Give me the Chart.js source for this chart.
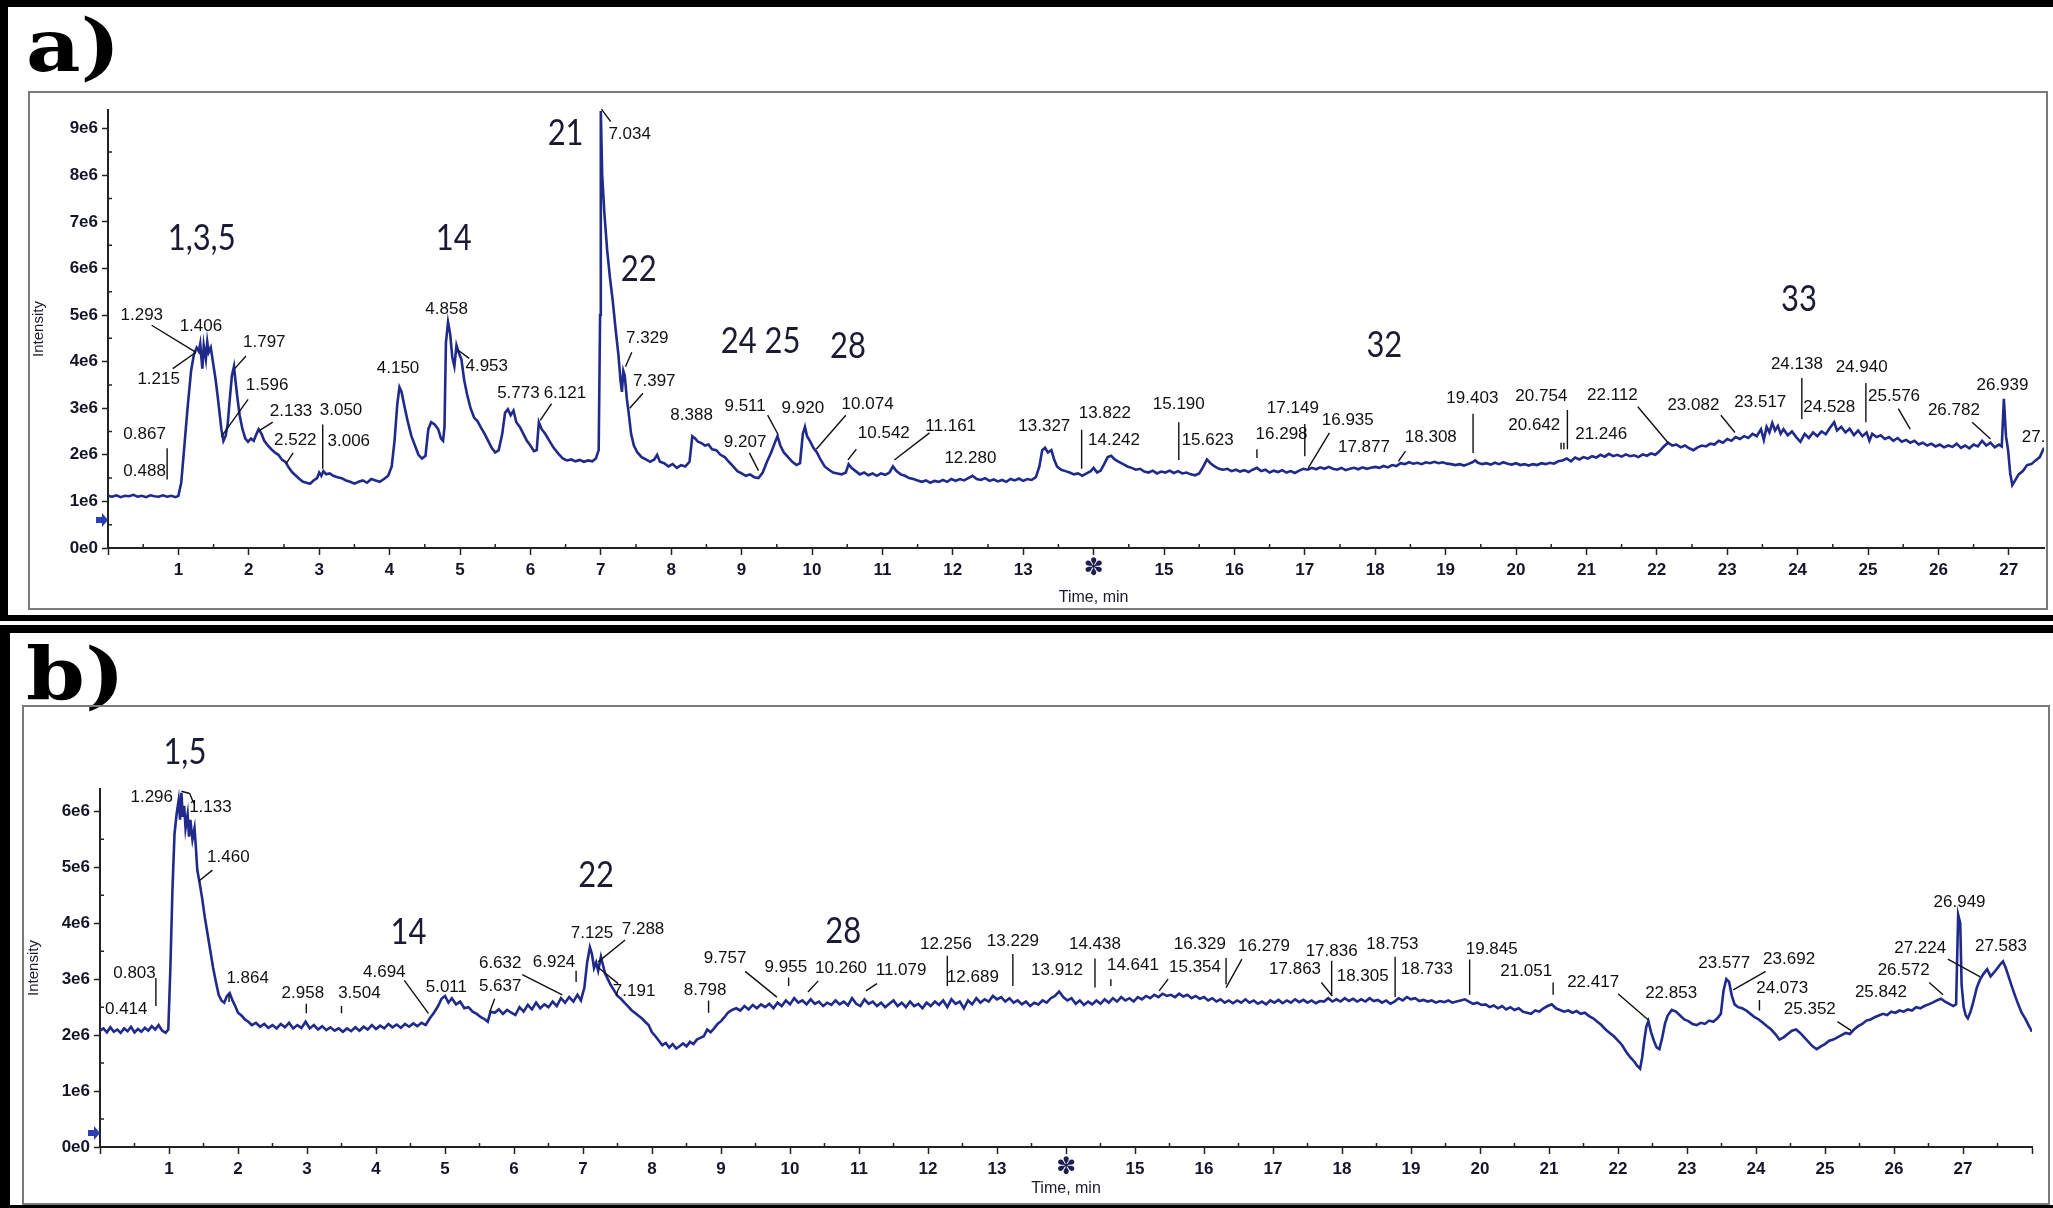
<!DOCTYPE html>
<html>
<head>
<meta charset="utf-8">
<script src="https://cdn.jsdelivr.net/npm/chart.js@4.4.0/dist/chart.umd.min.js"></script>
<style>
  html, body { margin: 0; padding: 0; background: #fff; }
  body { width: 2053px; height: 1208px; position: relative; overflow: hidden; }
  .blk { position: absolute; background: #000; }
  .frame { position: absolute; border: 2px solid #7a7a7a; box-sizing: border-box; }
  .frame canvas { position: absolute; left: 0; top: 0; }
  .tag { position: absolute; font: bold 72px "DejaVu Serif", serif; line-height: 72px; color: #000;
         transform: scaleX(1.17); transform-origin: left top; }
</style>
</head>
<body>
<div class="blk" style="left:0;top:0;width:2053px;height:7px"></div>
<div class="blk" style="left:0;top:0;width:8px;height:621px"></div>
<div class="blk" style="left:0;top:615px;width:2053px;height:6px"></div>
<div class="blk" style="left:0;top:625px;width:2053px;height:8px"></div>
<div class="blk" style="left:0;top:625px;width:10px;height:583px"></div>
<div class="blk" style="left:0;top:1205px;width:2053px;height:3px"></div>
<div class="tag" style="left:26px;top:10px">a)</div>
<div class="tag" style="left:26px;top:639px">b)</div>
<div class="frame" style="left:28px;top:91px;width:2020px;height:519px"><canvas id="chartA" width="2016" height="515"></canvas></div>
<div class="frame" style="left:22px;top:705px;width:2028px;height:500px"><canvas id="chartB" width="2024" height="496"></canvas></div>

<script>
// time (min), intensity (x1e6) read off chromatogram a)
const traceA = [
  [0.00,1.12],[0.06,1.10],[0.12,1.13],[0.18,1.09],[0.24,1.12],[0.30,1.11],[0.36,1.14],[0.42,1.10],[0.48,1.12],[0.54,1.09],
  [0.60,1.13],[0.66,1.11],[0.72,1.10],[0.78,1.13],[0.84,1.10],[0.90,1.12],[0.96,1.09],[1.00,1.12],[1.04,1.40],[1.08,2.10],
  [1.13,3.00],[1.18,3.80],[1.22,4.15],[1.26,4.30],[1.29,4.22],[1.31,4.38],[1.34,3.85],[1.36,4.35],[1.39,4.05],[1.41,4.42],
  [1.43,4.20],[1.46,4.30],[1.49,4.00],[1.53,3.60],[1.57,3.10],[1.61,2.55],[1.64,2.30],[1.67,2.40],[1.70,2.65],[1.73,3.20],
  [1.76,3.70],[1.79,3.90],[1.81,3.60],[1.84,3.20],[1.87,2.85],[1.91,2.55],[1.95,2.35],[1.99,2.28],[2.03,2.35],[2.07,2.30],
  [2.11,2.45],[2.14,2.55],[2.18,2.45],[2.22,2.30],[2.27,2.20],[2.32,2.12],[2.37,2.05],[2.42,2.00],[2.47,1.90],[2.52,1.85],
  [2.57,1.72],[2.62,1.62],[2.67,1.55],[2.72,1.48],[2.77,1.42],[2.82,1.40],[2.87,1.38],[2.92,1.45],[2.97,1.50],[3.00,1.62],
  [3.03,1.55],[3.06,1.65],[3.10,1.58],[3.15,1.60],[3.20,1.55],[3.26,1.52],[3.32,1.50],[3.38,1.45],[3.44,1.42],[3.50,1.38],
  [3.56,1.42],[3.62,1.45],[3.68,1.40],[3.74,1.48],[3.80,1.45],[3.86,1.42],[3.92,1.48],[3.98,1.55],[4.03,1.75],[4.07,2.30],
  [4.11,3.10],[4.14,3.45],[4.17,3.35],[4.21,3.05],[4.26,2.70],[4.31,2.40],[4.36,2.20],[4.41,2.00],[4.46,1.92],[4.51,1.98],
  [4.55,2.55],[4.59,2.70],[4.64,2.65],[4.69,2.55],[4.73,2.35],[4.76,2.30],[4.78,2.60],[4.80,4.40],[4.83,4.85],[4.86,4.60],
  [4.89,4.10],[4.92,3.90],[4.95,4.35],[4.98,4.20],[5.02,4.05],[5.06,3.60],[5.10,3.30],[5.15,3.00],[5.20,2.80],[5.25,2.72],
  [5.30,2.58],[5.35,2.45],[5.40,2.30],[5.45,2.15],[5.50,2.05],[5.55,2.10],[5.60,2.45],[5.64,2.90],[5.68,2.98],[5.72,2.85],
  [5.76,2.95],[5.80,2.70],[5.85,2.60],[5.90,2.45],[5.95,2.30],[6.00,2.20],[6.05,2.08],[6.09,2.10],[6.12,2.70],[6.16,2.55],
  [6.21,2.45],[6.27,2.30],[6.33,2.15],[6.40,2.02],[6.46,1.92],[6.52,1.88],[6.58,1.90],[6.64,1.86],[6.70,1.89],[6.76,1.85],
  [6.82,1.88],[6.88,1.86],[6.93,1.92],[6.97,2.10],[6.99,5.00],[7.00,9.38],[7.02,8.00],[7.05,7.20],[7.09,6.40],[7.13,5.80],
  [7.17,5.30],[7.21,4.70],[7.25,4.15],[7.28,3.60],[7.30,3.35],[7.32,3.80],[7.34,3.70],[7.37,3.20],[7.40,2.85],[7.43,2.45],
  [7.47,2.20],[7.52,2.05],[7.58,1.95],[7.64,1.90],[7.70,1.85],[7.76,1.90],[7.80,2.00],[7.84,1.85],[7.90,1.82],[7.96,1.75],
  [8.02,1.80],[8.08,1.72],[8.14,1.78],[8.20,1.75],[8.26,1.85],[8.30,2.40],[8.34,2.35],[8.38,2.28],[8.43,2.25],[8.48,2.20],
  [8.53,2.22],[8.58,2.12],[8.64,2.10],[8.70,2.00],[8.76,1.95],[8.82,1.85],[8.88,1.75],[8.94,1.65],[9.00,1.60],[9.06,1.55],
  [9.12,1.58],[9.18,1.52],[9.24,1.50],[9.30,1.62],[9.36,1.85],[9.42,2.05],[9.47,2.25],[9.51,2.40],[9.55,2.20],[9.60,2.05],
  [9.66,1.95],[9.72,1.85],[9.78,1.78],[9.83,1.82],[9.87,2.45],[9.90,2.60],[9.93,2.40],[9.97,2.30],[10.02,2.15],[10.07,2.05],
  [10.12,1.90],[10.18,1.75],[10.24,1.68],[10.30,1.62],[10.36,1.60],[10.42,1.58],[10.48,1.62],[10.52,1.80],[10.56,1.72],[10.62,1.65],
  [10.68,1.58],[10.74,1.62],[10.80,1.56],[10.86,1.60],[10.92,1.55],[10.98,1.60],[11.04,1.57],[11.10,1.62],[11.15,1.75],[11.20,1.65],
  [11.26,1.58],[11.32,1.55],[11.38,1.50],[11.44,1.48],[11.50,1.45],[11.56,1.42],[11.62,1.45],[11.68,1.40],[11.74,1.44],[11.80,1.42],
  [11.86,1.46],[11.92,1.42],[11.98,1.48],[12.04,1.44],[12.10,1.48],[12.16,1.45],[12.22,1.50],[12.28,1.55],[12.34,1.48],[12.40,1.46],
  [12.46,1.50],[12.52,1.44],[12.58,1.47],[12.64,1.43],[12.70,1.46],[12.76,1.42],[12.82,1.48],[12.88,1.45],[12.94,1.49],[13.00,1.44],
  [13.06,1.48],[13.12,1.46],[13.18,1.52],[13.23,1.75],[13.27,2.10],[13.31,2.15],[13.35,2.05],[13.40,2.10],[13.44,1.90],[13.48,1.75],
  [13.54,1.68],[13.60,1.65],[13.66,1.62],[13.72,1.58],[13.78,1.60],[13.84,1.55],[13.90,1.60],[13.96,1.65],[14.00,1.72],[14.05,1.62],
  [14.10,1.66],[14.15,1.80],[14.20,1.95],[14.25,1.98],[14.30,1.90],[14.36,1.85],[14.42,1.80],[14.48,1.75],[14.54,1.72],[14.60,1.68],
  [14.66,1.70],[14.72,1.64],[14.78,1.62],[14.84,1.66],[14.90,1.60],[14.96,1.64],[15.02,1.62],[15.08,1.66],[15.14,1.61],[15.20,1.65],
  [15.26,1.60],[15.32,1.62],[15.38,1.58],[15.44,1.56],[15.50,1.60],[15.56,1.75],[15.61,1.90],[15.66,1.82],[15.72,1.75],[15.78,1.70],
  [15.84,1.68],[15.90,1.70],[15.96,1.65],[16.02,1.68],[16.08,1.64],[16.14,1.67],[16.20,1.63],[16.26,1.68],[16.32,1.72],[16.38,1.65],
  [16.44,1.68],[16.50,1.62],[16.56,1.66],[16.62,1.63],[16.68,1.67],[16.74,1.62],[16.80,1.65],[16.86,1.61],[16.92,1.66],[16.98,1.70],
  [17.04,1.68],[17.10,1.72],[17.16,1.69],[17.22,1.73],[17.28,1.70],[17.34,1.74],[17.40,1.70],[17.46,1.68],[17.52,1.72],[17.58,1.67],
  [17.64,1.70],[17.70,1.72],[17.76,1.69],[17.82,1.73],[17.88,1.70],[17.94,1.72],[18.00,1.74],[18.06,1.72],[18.12,1.76],[18.18,1.73],
  [18.24,1.78],[18.30,1.76],[18.36,1.82],[18.42,1.80],[18.48,1.84],[18.54,1.81],[18.60,1.83],[18.66,1.80],[18.72,1.84],[18.78,1.82],
  [18.84,1.85],[18.90,1.82],[18.96,1.84],[19.02,1.81],[19.08,1.80],[19.14,1.78],[19.20,1.80],[19.26,1.77],[19.32,1.80],[19.38,1.84],
  [19.42,1.88],[19.46,1.83],[19.52,1.80],[19.58,1.82],[19.64,1.79],[19.70,1.83],[19.76,1.80],[19.82,1.84],[19.88,1.81],[19.94,1.79],
  [20.00,1.82],[20.06,1.78],[20.12,1.80],[20.18,1.77],[20.24,1.80],[20.30,1.78],[20.36,1.82],[20.42,1.80],[20.48,1.83],[20.54,1.81],
  [20.60,1.86],[20.66,1.88],[20.72,1.92],[20.78,1.86],[20.84,1.94],[20.90,1.90],[20.96,1.95],[21.02,1.92],[21.08,1.97],[21.14,1.94],
  [21.20,2.00],[21.26,1.96],[21.32,2.02],[21.38,1.97],[21.44,2.00],[21.50,1.96],[21.56,2.01],[21.62,1.97],[21.68,1.99],[21.74,1.95],
  [21.80,2.01],[21.86,1.98],[21.92,2.03],[21.98,2.00],[22.04,2.08],[22.10,2.18],[22.16,2.26],[22.22,2.20],[22.28,2.22],[22.34,2.16],
  [22.40,2.20],[22.46,2.14],[22.52,2.10],[22.58,2.16],[22.64,2.20],[22.70,2.18],[22.76,2.24],[22.82,2.22],[22.88,2.30],[22.94,2.26],
  [23.00,2.34],[23.06,2.30],[23.12,2.38],[23.18,2.34],[23.24,2.40],[23.30,2.36],[23.36,2.45],[23.42,2.40],[23.48,2.55],[23.52,2.32],
  [23.56,2.60],[23.60,2.48],[23.64,2.68],[23.68,2.52],[23.72,2.62],[23.76,2.45],[23.80,2.55],[23.86,2.42],[23.92,2.50],[23.98,2.38],
  [24.04,2.28],[24.10,2.45],[24.16,2.36],[24.22,2.48],[24.28,2.40],[24.34,2.50],[24.40,2.44],[24.46,2.58],[24.52,2.70],[24.56,2.52],
  [24.62,2.60],[24.68,2.48],[24.74,2.56],[24.80,2.42],[24.86,2.52],[24.92,2.40],[24.98,2.48],[25.02,2.30],[25.06,2.45],[25.12,2.38],
  [25.18,2.42],[25.24,2.34],[25.30,2.38],[25.36,2.30],[25.42,2.36],[25.48,2.28],[25.54,2.32],[25.60,2.26],[25.66,2.30],[25.72,2.22],
  [25.78,2.26],[25.84,2.20],[25.90,2.24],[25.96,2.18],[26.02,2.22],[26.08,2.16],[26.14,2.20],[26.20,2.17],[26.26,2.24],[26.32,2.15],
  [26.38,2.20],[26.44,2.14],[26.50,2.22],[26.56,2.18],[26.62,2.30],[26.68,2.20],[26.74,2.26],[26.80,2.16],[26.86,2.22],[26.90,2.18],
  [26.93,3.20],[26.96,2.40],[26.99,2.10],[27.02,1.60],[27.05,1.35],[27.09,1.45],[27.14,1.58],[27.20,1.65],[27.26,1.78],[27.32,1.80],
  [27.38,1.88],[27.44,1.95],[27.50,2.15]
];

// time (min), intensity (x1e6) read off chromatogram b)
const traceB = [
  [0.00,2.08],[0.05,2.12],[0.10,2.05],[0.15,2.14],[0.20,2.06],[0.25,2.10],[0.30,2.04],[0.35,2.12],[0.40,2.07],[0.45,2.15],
  [0.50,2.05],[0.55,2.11],[0.60,2.06],[0.65,2.13],[0.70,2.08],[0.75,2.16],[0.80,2.10],[0.85,2.18],[0.90,2.08],[0.95,2.04],
  [0.99,2.10],[1.02,3.20],[1.05,4.60],[1.08,5.60],[1.11,5.95],[1.14,6.20],[1.16,5.85],[1.18,6.33],[1.20,5.90],[1.22,6.10],
  [1.24,5.70],[1.27,5.95],[1.29,5.55],[1.31,5.85],[1.34,5.50],[1.37,5.70],[1.39,5.35],[1.41,4.95],[1.44,4.75],[1.48,4.45],
  [1.52,4.10],[1.56,3.80],[1.60,3.50],[1.64,3.20],[1.68,2.95],[1.72,2.72],[1.76,2.62],[1.80,2.58],[1.84,2.70],[1.88,2.75],
  [1.92,2.62],[1.96,2.52],[2.00,2.40],[2.05,2.35],[2.10,2.28],[2.15,2.24],[2.20,2.18],[2.26,2.22],[2.32,2.15],[2.38,2.20],
  [2.44,2.13],[2.50,2.18],[2.56,2.12],[2.62,2.20],[2.68,2.14],[2.74,2.22],[2.80,2.12],[2.86,2.18],[2.92,2.13],[2.98,2.24],
  [3.04,2.12],[3.10,2.18],[3.16,2.10],[3.22,2.16],[3.28,2.09],[3.34,2.14],[3.40,2.08],[3.46,2.12],[3.52,2.06],[3.58,2.12],
  [3.64,2.07],[3.70,2.14],[3.76,2.08],[3.82,2.15],[3.88,2.10],[3.94,2.18],[4.00,2.11],[4.06,2.17],[4.12,2.12],[4.18,2.20],
  [4.24,2.14],[4.30,2.19],[4.36,2.13],[4.42,2.20],[4.48,2.15],[4.54,2.21],[4.60,2.16],[4.66,2.22],[4.72,2.18],[4.78,2.30],
  [4.84,2.40],[4.90,2.52],[4.95,2.65],[5.00,2.70],[5.05,2.58],[5.10,2.66],[5.16,2.55],[5.22,2.60],[5.28,2.48],[5.34,2.50],
  [5.40,2.42],[5.46,2.38],[5.52,2.32],[5.58,2.28],[5.62,2.24],[5.66,2.42],[5.72,2.40],[5.78,2.46],[5.84,2.38],[5.90,2.45],
  [5.96,2.40],[6.02,2.36],[6.08,2.50],[6.14,2.42],[6.20,2.54],[6.26,2.46],[6.32,2.58],[6.38,2.48],[6.44,2.55],[6.50,2.50],
  [6.56,2.60],[6.62,2.52],[6.68,2.66],[6.74,2.58],[6.80,2.68],[6.86,2.60],[6.92,2.72],[6.97,2.62],[7.02,2.85],[7.06,3.30],
  [7.10,3.57],[7.13,3.45],[7.16,3.20],[7.19,3.30],[7.22,3.15],[7.26,3.40],[7.29,3.25],[7.32,3.10],[7.36,3.00],[7.40,2.90],
  [7.45,2.80],[7.50,2.70],[7.55,2.65],[7.60,2.58],[7.65,2.52],[7.70,2.45],[7.75,2.40],[7.80,2.35],[7.85,2.30],[7.90,2.24],
  [7.95,2.18],[8.00,2.05],[8.05,1.98],[8.10,1.90],[8.15,1.82],[8.20,1.86],[8.25,1.78],[8.30,1.84],[8.35,1.76],[8.40,1.80],
  [8.45,1.85],[8.50,1.80],[8.55,1.88],[8.60,1.84],[8.65,1.92],[8.70,1.95],[8.75,1.98],[8.80,2.10],[8.85,2.05],[8.90,2.12],
  [8.95,2.20],[9.00,2.25],[9.05,2.32],[9.10,2.40],[9.16,2.45],[9.22,2.48],[9.28,2.44],[9.34,2.52],[9.40,2.46],[9.46,2.54],
  [9.52,2.48],[9.58,2.55],[9.64,2.50],[9.70,2.56],[9.76,2.48],[9.82,2.58],[9.88,2.52],[9.94,2.62],[10.00,2.55],[10.06,2.66],
  [10.12,2.58],[10.18,2.62],[10.24,2.55],[10.30,2.64],[10.36,2.56],[10.42,2.60],[10.48,2.52],[10.54,2.58],[10.60,2.54],[10.66,2.62],
  [10.72,2.55],[10.78,2.60],[10.84,2.53],[10.90,2.66],[10.96,2.56],[11.02,2.52],[11.08,2.64],[11.14,2.56],[11.20,2.60],[11.26,2.52],
  [11.32,2.58],[11.38,2.50],[11.44,2.56],[11.50,2.62],[11.56,2.52],[11.62,2.58],[11.68,2.50],[11.74,2.60],[11.80,2.52],[11.86,2.56],
  [11.92,2.48],[11.98,2.58],[12.04,2.52],[12.10,2.60],[12.16,2.54],[12.22,2.62],[12.28,2.50],[12.34,2.64],[12.40,2.56],[12.46,2.60],
  [12.52,2.48],[12.58,2.62],[12.64,2.55],[12.70,2.66],[12.76,2.58],[12.82,2.64],[12.88,2.60],[12.94,2.70],[13.00,2.64],[13.06,2.68],
  [13.12,2.60],[13.18,2.66],[13.24,2.58],[13.30,2.62],[13.36,2.55],[13.42,2.60],[13.48,2.52],[13.54,2.58],[13.60,2.55],[13.66,2.62],
  [13.72,2.58],[13.78,2.66],[13.84,2.70],[13.90,2.78],[13.96,2.68],[14.02,2.62],[14.08,2.66],[14.14,2.56],[14.20,2.62],[14.26,2.54],
  [14.32,2.60],[14.38,2.55],[14.44,2.62],[14.50,2.56],[14.56,2.64],[14.62,2.58],[14.68,2.66],[14.74,2.60],[14.80,2.68],[14.86,2.62],
  [14.92,2.66],[14.98,2.60],[15.04,2.68],[15.10,2.64],[15.16,2.70],[15.22,2.66],[15.28,2.72],[15.34,2.68],[15.40,2.74],[15.46,2.70],
  [15.52,2.72],[15.58,2.68],[15.64,2.74],[15.70,2.69],[15.76,2.72],[15.82,2.66],[15.88,2.70],[15.94,2.65],[16.00,2.68],[16.06,2.62],
  [16.12,2.66],[16.18,2.60],[16.24,2.64],[16.30,2.58],[16.36,2.62],[16.42,2.57],[16.48,2.62],[16.54,2.58],[16.60,2.64],[16.66,2.58],
  [16.72,2.62],[16.78,2.56],[16.84,2.60],[16.90,2.55],[16.96,2.62],[17.02,2.58],[17.08,2.63],[17.14,2.57],[17.20,2.62],[17.26,2.58],
  [17.32,2.64],[17.38,2.59],[17.44,2.63],[17.50,2.58],[17.56,2.62],[17.62,2.57],[17.68,2.61],[17.74,2.60],[17.80,2.66],[17.86,2.60],
  [17.92,2.64],[17.98,2.60],[18.04,2.66],[18.10,2.61],[18.16,2.65],[18.22,2.60],[18.28,2.64],[18.34,2.60],[18.40,2.66],[18.46,2.61],
  [18.52,2.63],[18.58,2.58],[18.64,2.62],[18.70,2.56],[18.76,2.60],[18.82,2.66],[18.88,2.62],[18.94,2.68],[19.00,2.64],[19.06,2.66],
  [19.12,2.61],[19.18,2.63],[19.24,2.60],[19.30,2.62],[19.36,2.58],[19.42,2.61],[19.48,2.59],[19.54,2.62],[19.60,2.58],[19.66,2.60],
  [19.72,2.62],[19.78,2.64],[19.84,2.60],[19.90,2.56],[19.96,2.58],[20.02,2.54],[20.08,2.55],[20.14,2.50],[20.20,2.53],[20.26,2.48],
  [20.32,2.52],[20.38,2.46],[20.44,2.50],[20.50,2.45],[20.56,2.48],[20.62,2.42],[20.68,2.40],[20.74,2.38],[20.80,2.44],[20.86,2.42],
  [20.92,2.48],[20.98,2.52],[21.04,2.55],[21.10,2.48],[21.16,2.45],[21.22,2.42],[21.28,2.44],[21.34,2.40],[21.40,2.43],[21.46,2.38],
  [21.52,2.40],[21.58,2.34],[21.64,2.30],[21.70,2.24],[21.76,2.18],[21.82,2.10],[21.88,2.04],[21.94,1.98],[22.00,1.90],[22.06,1.82],
  [22.12,1.70],[22.18,1.60],[22.24,1.52],[22.28,1.45],[22.32,1.40],[22.35,1.60],[22.38,1.90],[22.41,2.15],[22.44,2.25],[22.48,2.05],
  [22.52,1.90],[22.56,1.78],[22.60,1.75],[22.64,1.95],[22.68,2.20],[22.72,2.35],[22.78,2.45],[22.84,2.42],[22.90,2.35],[22.96,2.28],
  [23.02,2.25],[23.08,2.20],[23.14,2.18],[23.20,2.22],[23.26,2.20],[23.32,2.26],[23.38,2.24],[23.44,2.30],[23.49,2.38],[23.53,2.80],
  [23.57,3.00],[23.61,2.95],[23.65,2.70],[23.69,2.55],[23.74,2.50],[23.80,2.48],[23.86,2.44],[23.92,2.38],[23.98,2.32],[24.04,2.28],
  [24.10,2.22],[24.16,2.16],[24.22,2.10],[24.28,2.02],[24.34,1.92],[24.40,1.96],[24.46,2.02],[24.52,2.08],[24.58,2.10],[24.64,2.04],
  [24.70,1.96],[24.76,1.88],[24.82,1.80],[24.88,1.75],[24.94,1.80],[25.00,1.84],[25.06,1.90],[25.12,1.92],[25.18,1.96],[25.24,2.00],
  [25.30,2.04],[25.36,2.02],[25.42,2.10],[25.48,2.16],[25.54,2.20],[25.60,2.26],[25.66,2.28],[25.72,2.32],[25.78,2.35],[25.84,2.38],
  [25.90,2.36],[25.96,2.42],[26.02,2.40],[26.08,2.44],[26.14,2.42],[26.20,2.46],[26.26,2.44],[26.32,2.50],[26.38,2.48],[26.44,2.52],
  [26.50,2.55],[26.56,2.58],[26.62,2.62],[26.68,2.65],[26.74,2.60],[26.80,2.56],[26.86,2.52],[26.90,2.55],[26.93,4.15],[26.96,4.00],
  [26.98,2.90],[27.01,2.50],[27.04,2.35],[27.07,2.30],[27.11,2.42],[27.15,2.60],[27.20,2.85],[27.25,3.00],[27.30,3.10],[27.35,3.18],
  [27.40,3.05],[27.45,3.12],[27.50,3.20],[27.55,3.28],[27.58,3.32],[27.62,3.20],[27.66,3.05],[27.70,2.90],[27.75,2.72],[27.80,2.55],
  [27.85,2.40],[27.90,2.30],[27.95,2.18],[28.00,2.06]
];

// retention-time labels: text, time, intensity
const peaksA = [
  ["0.488",0.52,1.65],["0.867",0.52,2.45],["1.293",0.48,5.00],["1.406",1.32,4.75],["1.215",0.72,3.62],
  ["1.797",2.22,4.42],["1.596",2.26,3.50],["2.133",2.60,2.94],["2.522",2.66,2.32],["3.050",3.31,2.96],
  ["3.006",3.42,2.30],["4.150",4.12,3.85],["4.858",4.81,5.13],["4.953",5.38,3.89],["5.773",5.83,3.32],
  ["6.121",6.49,3.32],["7.034",7.41,8.87],["7.329",7.66,4.51],["7.397",7.76,3.58],["8.388",8.29,2.85],
  ["9.511",9.05,3.05],["9.207",9.05,2.27],["9.920",9.87,3.00],["10.074",10.79,3.08],["10.542",11.02,2.47],
  ["11.161",11.97,2.62],["12.280",12.25,1.93],["13.327",13.30,2.62],["13.822",14.16,2.89],["14.242",14.29,2.31],
  ["15.190",15.21,3.08],["15.623",15.62,2.31],["17.149",16.83,3.00],["16.298",16.67,2.44],["16.935",17.61,2.74],
  ["17.877",17.84,2.17],["18.308",18.79,2.37],["19.403",19.38,3.21],["20.754",20.36,3.25],["20.642",20.26,2.63],
  ["21.246",21.21,2.45],["22.112",21.37,3.28],["23.082",22.52,3.07],["23.517",23.47,3.12],["24.138",23.99,3.94],
  ["24.528",24.45,3.03],["24.940",24.91,3.87],["25.576",25.37,3.25],["26.782",26.22,2.96],["26.939",26.91,3.50],
  ["27.1",27.42,2.37]
];
const peaksB = [
  ["1.296",0.75,6.25],["1.133",1.60,6.08],["1.460",1.86,5.18],["0.803",0.50,3.10],["0.414",0.38,2.46],
  ["1.864",2.14,3.02],["2.958",2.94,2.75],["3.504",3.76,2.75],["4.694",4.12,3.13],["5.011",5.02,2.85],
  ["5.637",5.80,2.87],["6.632",5.80,3.28],["6.924",6.58,3.30],["7.125",7.13,3.82],["7.288",7.87,3.90],
  ["7.191",7.74,2.79],["8.798",8.77,2.80],["9.757",9.06,3.38],["9.955",9.94,3.22],["10.260",10.74,3.19],
  ["11.079",11.61,3.16],["12.256",12.26,3.62],["12.689",12.65,3.03],["13.229",13.23,3.67],["13.912",13.87,3.16],
  ["14.438",14.42,3.62],["14.641",14.97,3.25],["15.354",15.87,3.22],["16.329",15.94,3.62],["16.279",16.87,3.59],
  ["17.836",17.85,3.50],["17.863",17.32,3.18],["18.305",18.30,3.05],["18.753",18.73,3.62],["18.733",19.23,3.18],
  ["19.845",20.17,3.53],["21.051",20.67,3.14],["22.417",21.64,2.94],["22.853",22.77,2.74],["23.577",23.54,3.28],
  ["23.692",24.48,3.36],["24.073",24.38,2.83],["25.352",24.78,2.46],["25.842",25.81,2.77],["26.572",26.14,3.16],
  ["27.224",26.38,3.55],["26.949",26.95,4.38],["27.583",27.55,3.59]
];

// leader lines: t1, v1, t2, v2
const leadersA = [
  [0.84,2.14,0.84,1.47],[0.62,4.78,1.25,4.20],[0.92,3.85,1.25,4.20],[1.96,4.12,1.80,3.85],[1.99,3.19,1.61,2.39],
  [2.34,2.70,2.15,2.52],[2.63,2.04,2.53,1.81],[3.05,2.65,3.05,1.70],[5.13,4.07,4.97,4.25],[6.30,3.10,6.14,2.74],
  [7.01,9.42,7.14,9.15],[7.44,4.20,7.35,3.89],[7.60,3.32,7.41,3.00],[9.37,2.85,9.52,2.43],[9.11,2.04,9.24,1.66],
  [10.48,2.85,10.06,2.12],[10.63,2.12,10.51,1.89],[11.67,2.47,11.17,1.89],[13.83,2.54,13.83,1.70],[15.21,2.70,15.21,1.89],
  [17.00,2.66,17.00,1.97],[16.32,2.12,16.32,1.93],[17.35,2.47,17.05,1.72],[18.43,2.08,18.33,1.86],[19.39,2.88,19.39,2.04],
  [20.64,2.26,20.64,2.12],[20.68,2.26,20.68,2.12],[20.73,2.96,20.73,2.12],[21.73,3.03,22.16,2.26],[22.91,2.85,23.11,2.48],
  [24.06,3.65,24.06,2.77],[24.97,3.54,24.97,2.70],[25.43,2.99,25.60,2.55],[26.48,2.70,26.74,2.34]
];
const leadersB = [
  [0.81,3.02,0.81,2.52],[1.18,6.36,1.30,6.32],[1.30,6.32,1.36,6.14],[1.43,4.75,1.63,4.95],[1.87,2.72,1.87,2.59],
  [2.99,2.56,2.99,2.39],[3.50,2.52,3.50,2.39],[4.41,2.98,4.76,2.39],[5.72,2.65,5.65,2.42],[6.12,3.08,6.70,2.72],
  [6.90,3.15,6.90,2.95],[7.61,3.70,7.22,3.31],[7.51,2.92,7.22,3.21],[8.82,2.62,8.82,2.40],[9.35,3.14,9.81,2.68],
  [9.98,3.03,9.98,2.88],[10.41,2.97,10.26,2.77],[11.26,2.92,11.10,2.79],[12.28,3.42,12.28,2.88],[13.23,3.45,13.23,2.88],
  [14.42,3.37,14.42,2.85],[14.65,3.00,14.65,2.88],[15.48,3.00,15.35,2.79],[16.32,3.38,16.32,2.91],[16.55,3.36,16.32,2.85],
  [17.85,3.33,17.85,2.70],[17.70,2.94,17.86,2.70],[18.77,3.40,18.77,2.68],[19.85,3.35,19.85,2.72],[21.06,2.94,21.06,2.72],
  [22.00,2.74,22.44,2.27],[24.14,3.14,23.67,2.81],[24.05,2.63,24.05,2.44],[25.18,2.24,25.38,2.08],[26.51,2.94,26.71,2.72],
  [26.78,3.36,27.25,3.04]
];

// compound numbers: text, time, intensity
const compoundsA = [["1,3,5",1.33,6.64],["14",4.91,6.64],["21",6.50,8.89],["22",7.54,5.97],["24 25",9.27,4.43],["28",10.51,4.32],["32",18.13,4.34],["33",24.02,5.33]];
const compoundsB = [["1,5",1.23,7.05],["14",4.47,3.84],["22",7.19,4.85],["28",10.77,3.85]];

function decorPlugin(peaks, leaders, compounds, look) {
  return {
    id: 'decor',
    afterDatasetsDraw(chart) {
      const {ctx, chartArea: area, scales: {x, y}} = chart;
      const px = t => x.getPixelForValue(t);
      const py = v => y.getPixelForValue(v);
      ctx.save();

      // minor ticks pointing inward
      ctx.strokeStyle = '#222';
      ctx.lineWidth = 1.5;
      ctx.beginPath();
      for (let t = 0.5; t < x.max; t += 1) { ctx.moveTo(px(t), area.bottom); ctx.lineTo(px(t), area.bottom - 4); }
      for (let v = 0.5; v < y.max; v += 1) { ctx.moveTo(area.left, py(v)); ctx.lineTo(area.left + 4, py(v)); }
      ctx.stroke();

      // leader lines
      ctx.strokeStyle = '#111';
      ctx.lineWidth = 1.4;
      ctx.beginPath();
      leaders.forEach(([t1, v1, t2, v2]) => { ctx.moveTo(px(t1), py(v1)); ctx.lineTo(px(t2), py(v2)); });
      ctx.stroke();

      ctx.textAlign = 'center';
      ctx.textBaseline = 'middle';

      // retention times
      ctx.fillStyle = '#111';
      ctx.font = '17px "Liberation Sans", Arial, sans-serif';
      peaks.forEach(([txt, t, v]) => ctx.fillText(txt, px(t), py(v)));

      // compound numbers
      ctx.fillStyle = '#1a1a33';
      ctx.font = '36px Lato, "Open Sans", sans-serif';
      compounds.forEach(([txt, t, v]) => {
        ctx.save();
        ctx.translate(px(t), py(v));
        ctx.scale(0.86, 1);
        ctx.fillText(txt, 0, 0);
        ctx.restore();
      });

      // asterisk in place of the 14 tick label
      ctx.fillStyle = '#1e1e50';
      ctx.font = 'bold 24px "DejaVu Sans", sans-serif';
      ctx.fillText('\u273D', px(14), area.bottom + 21);

      // axis titles
      ctx.fillStyle = '#1a1a2a';
      ctx.font = '16px "Liberation Sans", Arial, sans-serif';
      ctx.fillText('Time, min', px(14), area.bottom + look.timeOffset);
      ctx.save();
      ctx.translate(look.titleX, (area.top + area.bottom) / 2);
      ctx.rotate(-Math.PI / 2);
      ctx.font = '15px "Liberation Sans", Arial, sans-serif';
      ctx.fillText('Intensity', 0, 0);
      ctx.restore();

      // blue arrow marker on the intensity axis
      const my = py(look.markerV), mx = area.left;
      ctx.fillStyle = '#2b3fb0';
      ctx.beginPath();
      ctx.moveTo(mx - 12, my - 3); ctx.lineTo(mx - 6, my - 3); ctx.lineTo(mx - 6, my - 7);
      ctx.lineTo(mx, my); ctx.lineTo(mx - 6, my + 7); ctx.lineTo(mx - 6, my + 3); ctx.lineTo(mx - 12, my + 3);
      ctx.closePath();
      ctx.fill();

      ctx.restore();
    }
  };
}

function makePanel(id, trace, peaks, leaders, compounds, look) {
  const tickFont = { family: 'Liberation Sans', size: 17, weight: 'bold' };
  new Chart(document.getElementById(id), {
    type: 'line',
    data: {
      datasets: [{
        data: trace.map(([t, v]) => ({ x: t, y: v })),
        borderColor: '#1f2a8a',
        borderWidth: 2.6,
        pointRadius: 0,
        tension: 0,
        fill: false
      }]
    },
    options: {
      responsive: false,
      animation: false,
      layout: { padding: { top: look.padTop, right: look.padRight, left: 0, bottom: 0 } },
      plugins: { legend: { display: false }, tooltip: { enabled: false } },
      scales: {
        x: {
          type: 'linear',
          min: 0,
          max: look.xMax,
          ticks: {
            stepSize: 1,
            includeBounds: false,
            autoSkip: false,
            maxRotation: 0,
            padding: 5,
            color: '#15152a',
            font: tickFont,
            // no label at 0, the 14 mark is drawn as an asterisk, none at the axis end
            callback: v => (v === 0 || v === 14 || v >= 28) ? '' : String(v)
          },
          grid: { drawOnChartArea: false, drawTicks: true, tickLength: 7, tickColor: '#222', tickWidth: 1.5 },
          border: { color: '#222', width: 2 },
          afterFit: s => { s.height = look.xAxisHeight; }
        },
        y: {
          min: 0,
          max: look.yMax,
          ticks: {
            stepSize: 1,
            includeBounds: false,
            padding: 4,
            color: '#15152a',
            font: tickFont,
            callback: v => v === 0 ? '0e0' : v + 'e6'
          },
          grid: { drawOnChartArea: false, drawTicks: true, tickLength: 6, tickColor: '#222', tickWidth: 1.5 },
          border: { color: '#222', width: 2 },
          afterFit: s => { s.width = look.yAxisWidth; }
        }
      }
    },
    plugins: [decorPlugin(peaks, leaders, compounds, look)]
  });
}

makePanel('chartA', traceA, peaksA, leadersA, compoundsA,
  { xMax: 27.5, yMax: 9.4, yAxisWidth: 78, xAxisHeight: 60, padTop: 17, padRight: 2, timeOffset: 50, titleX: 9, markerV: 0.6 });
makePanel('chartB', traceB, peaksB, leadersB, compoundsB,
  { xMax: 28, yMax: 6.4, yAxisWidth: 76, xAxisHeight: 56, padTop: 82, padRight: 16, timeOffset: 42, titleX: 10, markerV: 0.25 });
</script>
</body>
</html>
